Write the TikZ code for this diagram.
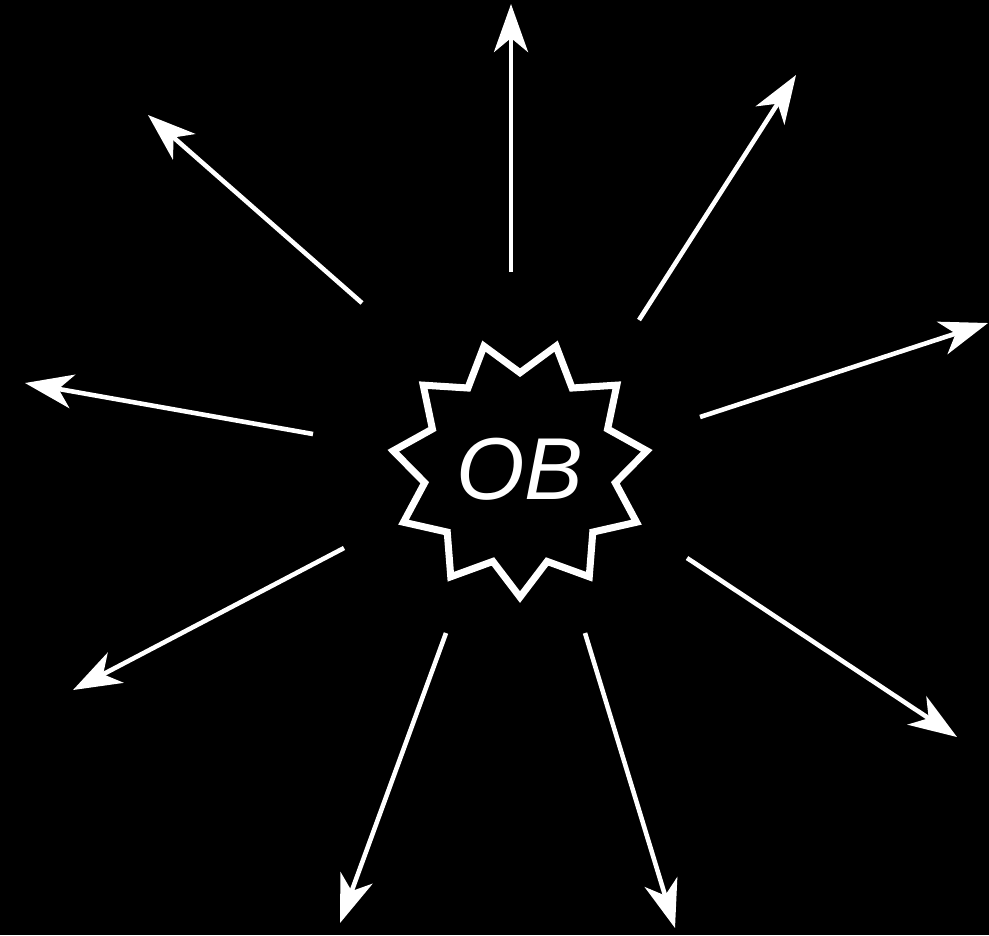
\documentclass[tikz,border=0pt]{standalone}
\usepackage{fontspec}
\setmainfont{Liberation Sans}
\usepackage{tikz}
\usetikzlibrary{arrows.meta,shapes.geometric}

\begin{document}
\begin{tikzpicture}[
    x=0.01cm, y=-0.01cm,
    >={Stealth[length=4.8mm,width=3.4mm,inset=1.4mm]},
    burst/.style={star, star points=11, star point ratio=1.33,
      shape border rotate=180, minimum size=2.56cm, inner sep=0pt,
      draw=white, line width=2pt, line join=miter, text=white,
      font=\fontsize{25}{29}\selectfont\itshape},
    ray/.style={->, draw=white, line width=1.3pt}]

    \fill[black] (0,0) rectangle (989,935);
    \useasboundingbox (0,0) rectangle (989,935);

    \node[burst] (ob) at (520,469) {OB};

    % rays: start / tip
    \foreach \i/\sx/\sy/\tx/\ty in {
        1/511/272/511/4,   2/639/320/796/75,   3/700/417/988/323,
        4/687/558/957/737, 5/585/633/675/928,  6/446/633/340/923,
        7/344/548/73/690,  8/313/434/25/383,   9/362/303/148/115} {
      \coordinate (s\i) at (\sx,\sy);
      \coordinate (t\i) at (\tx,\ty);
      \draw[ray] (s\i) -- (t\i);
    }
  \end{tikzpicture}
\end{document}
